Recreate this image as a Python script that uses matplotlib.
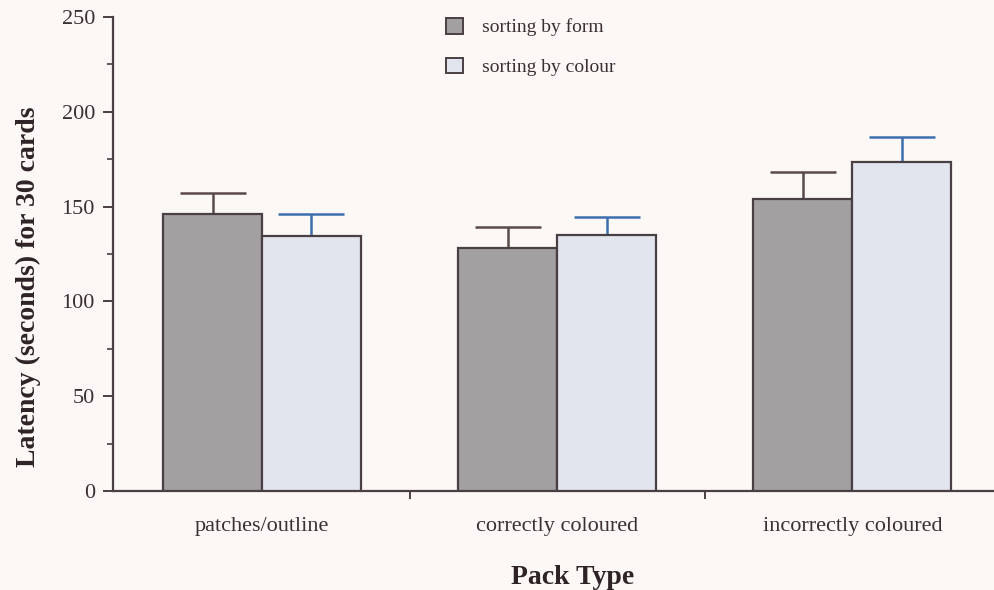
import numpy as np
import matplotlib
matplotlib.use("Agg")
import matplotlib.pyplot as plt
from matplotlib.patches import Patch
from matplotlib.ticker import MultipleLocator, FixedLocator

categories = ["patches/outline", "correctly coloured", "incorrectly coloured"]
form_means = [146, 128, 154]
form_err = [11, 11, 14]
colour_means = [134.5, 135, 173.5]
colour_err = [11.5, 9.5, 13]
series_labels = ["sorting by form", "sorting by colour"]

plt.rcParams["font.family"] = ["Liberation Serif", "DejaVu Serif"]

bg = "#fcf8f6"
form_fill = "#a3a0a2"
colour_fill = "#e2e4ee"
edge = "#4a3f42"
form_errc = "#5a4a48"
colour_errc = "#3d6fae"
txt = "#3a3034"

fig = plt.figure(figsize=(9.94, 5.90), dpi=100, facecolor=bg)
ax = fig.add_axes([0.1137, 0.1678, 0.8863, 0.8034], facecolor=bg)

x = np.arange(len(categories))
w = 0.335
ax.bar(x - w / 2, form_means, width=w, color=form_fill, edgecolor=edge, linewidth=1.6, zorder=3)
ax.bar(x + w / 2, colour_means, width=w, color=colour_fill, edgecolor=edge, linewidth=1.6, zorder=3)
ax.errorbar(x - w / 2, form_means, yerr=[np.zeros(3), form_err], fmt="none",
            ecolor=form_errc, elinewidth=1.8, capsize=24, capthick=1.8, zorder=2)
ax.errorbar(x + w / 2, colour_means, yerr=[np.zeros(3), colour_err], fmt="none",
            ecolor=colour_errc, elinewidth=1.8, capsize=24, capthick=1.8, zorder=2)

ax.set_xlim(-0.505, 2.48)
ax.set_ylim(0, 250)
ax.yaxis.set_major_locator(MultipleLocator(50))
ax.yaxis.set_minor_locator(MultipleLocator(25))
ax.xaxis.set_major_locator(FixedLocator([0.5, 1.5]))
ax.set_xticklabels([])
ax.xaxis.set_minor_locator(FixedLocator(x))
ax.set_xticklabels(categories, minor=True)
ax.tick_params(axis="x", which="minor", length=0, pad=19, labelsize=16, labelcolor=txt)
ax.tick_params(axis="x", which="major", length=6, width=1.4, color=edge)
ax.tick_params(axis="y", which="major", length=7, width=1.4, color=edge, labelsize=16,
               labelcolor=txt, pad=6)
ax.tick_params(axis="y", which="minor", length=4, width=1.2, color=edge)

for s in ["top", "right"]:
    ax.spines[s].set_visible(False)
for s in ["left", "bottom"]:
    ax.spines[s].set_color(edge)
    ax.spines[s].set_linewidth(1.6)

fig.text(28 / 994, 1 - 287 / 590, "Latency (seconds) for 30 cards", rotation=90,
         ha="center", va="center", fontsize=20, fontweight="bold", color="#2e2428")
fig.text(573 / 994, 1 - 577 / 590, "Pack Type", ha="center", va="center",
         fontsize=20, fontweight="bold", color="#2e2428")

handles = [Patch(facecolor=form_fill, edgecolor=edge, linewidth=1.4),
           Patch(facecolor=colour_fill, edgecolor=edge, linewidth=1.4)]
fig.legend(handles, series_labels, loc="upper left", bbox_to_anchor=(446 / 994, 1 - 18 / 590),
           bbox_transform=fig.transFigure, borderpad=0, borderaxespad=0,
           frameon=False, fontsize=14, handlelength=0.85, handleheight=0.85,
           handletextpad=1.0, labelspacing=1.1, labelcolor=txt)

fig.savefig("out.png", dpi=100, facecolor=bg)
